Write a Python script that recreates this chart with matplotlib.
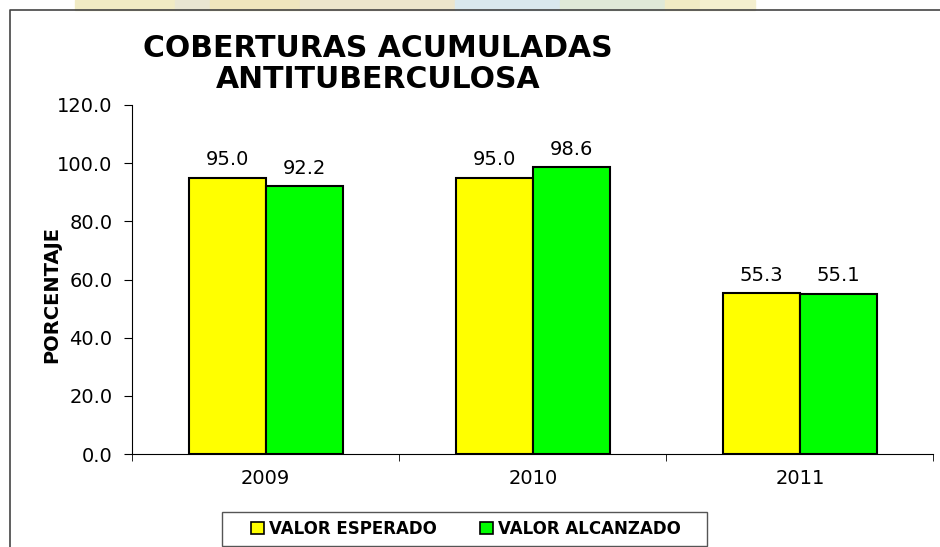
import matplotlib.pyplot as plt
from matplotlib.patches import Patch, Rectangle
from matplotlib.lines import Line2D

# coberturas acumuladas antituberculosa (porcentaje)
years = ['2009', '2010', '2011']
esperado = [95.0, 95.0, 55.3]
alcanzado = [92.2, 98.6, 55.1]
yticks = [0, 20, 40, 60, 80, 100, 120]

fig = plt.figure(figsize=(9.4, 5.47), dpi=100)
ax = fig.add_axes([132 / 940, 1 - 454 / 547, 801.5 / 940, 349 / 547])

# faded strip of the slide background on top
strip = [(75, 175, '#f1ebc4'), (175, 210, '#e9e6d2'), (210, 300, '#efe6bd'),
         (300, 455, '#ece5cc'), (455, 560, '#d9e8ee'), (560, 665, '#dfe9d8'),
         (665, 700, '#f1ebc4'), (700, 755, '#f4efcf')]
for x0, x1, c in strip:
    fig.patches.append(Rectangle((x0 / 940, 1 - 10 / 547), (x1 - x0) / 940, 10 / 547,
                                 transform=fig.transFigure, color=c, zorder=0))

# chart frame (left and top edges)
fig.lines.append(Line2D([10 / 940, 10 / 940, 1], [0, 1 - 10 / 547, 1 - 10 / 547],
                        transform=fig.transFigure, color='#444444', lw=1.2))

w = 0.288
xs = range(len(years))
b1 = ax.bar([x - w / 2 for x in xs], esperado, w, color='#ffff00', edgecolor='black', lw=1.5)
b2 = ax.bar([x + w / 2 for x in xs], alcanzado, w, color='#00ff00', edgecolor='black', lw=1.5)

for bars, vals in ((b1, esperado), (b2, alcanzado)):
    for b, v in zip(bars, vals):
        ax.annotate(f'{v:.1f}', (b.get_x() + b.get_width() / 2, v), xytext=(0, 6),
                    textcoords='offset points', ha='center', va='bottom', fontsize=14)

ax.set_xlim(-0.5, 2.5)
ax.set_ylim(0, 120)
ax.set_yticks(yticks)
ax.set_yticklabels([f'{t:.1f}' for t in yticks], fontsize=14)
ax.tick_params(axis='y', direction='out', length=6, pad=8)
ax.set_xticks(list(xs))
ax.set_xticklabels(years, fontsize=14)
ax.set_xticks([-0.5, 0.5, 1.5, 2.5], minor=True)
ax.tick_params(axis='x', which='major', length=0, pad=11)
ax.tick_params(axis='x', which='minor', direction='out', length=5)
ax.spines['top'].set_visible(False)
ax.spines['right'].set_visible(False)

ax.set_ylabel('PORCENTAJE', fontsize=14, fontweight='bold', va='center')
ax.yaxis.set_label_coords(-0.1, 0.456)

fig.text(378 / 940, 1 - 64 / 547, 'COBERTURAS ACUMULADAS\nANTITUBERCULOSA', ha='center',
         va='center', fontsize=21.5, fontweight='bold', linespacing=1.12)

# legend box drawn by hand, entries centred inside it
fig.patches.append(Rectangle((222 / 940, 1 / 547), 485 / 940, 34 / 547, transform=fig.transFigure,
                             facecolor='white', edgecolor='#555555', lw=1.0, zorder=1))
handles = [Patch(facecolor='#ffff00', edgecolor='black', lw=1.2),
           Patch(facecolor='#00ff00', edgecolor='black', lw=1.2)]
fig.legend(handles, ['VALOR ESPERADO', 'VALOR ALCANZADO'], ncol=2,
           loc='center', bbox_to_anchor=(466 / 940, 1 - 529 / 547), frameon=False,
           handlelength=0.75, handleheight=0.75, handletextpad=0.3, columnspacing=2.6,
           borderaxespad=0, prop={'weight': 'bold', 'size': 12})

fig.savefig('out.png', dpi=100)
